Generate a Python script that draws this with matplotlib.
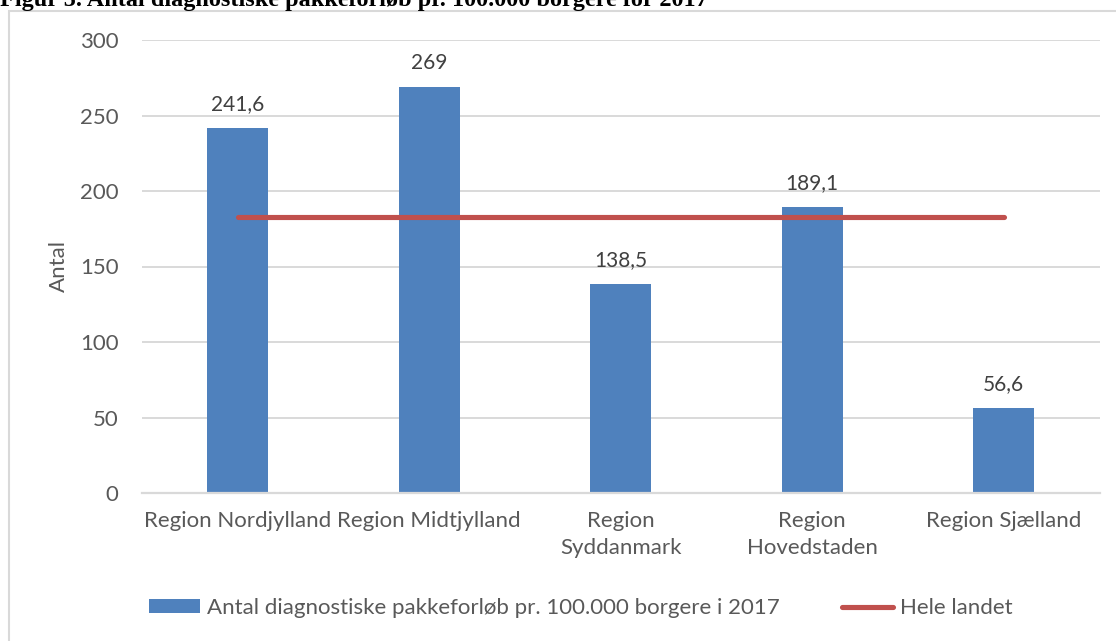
import matplotlib
matplotlib.use("Agg")
import matplotlib.pyplot as plt
from matplotlib.patches import Rectangle
from matplotlib.lines import Line2D
from matplotlib.patches import Patch

# data
regions = ["Region Nordjylland", "Region Midtjylland", "Region\nSyddanmark",
           "Region\nHovedstaden", "Region Sjælland"]
pakkeforloeb = [241.6, 269, 138.5, 189.1, 56.6]
value_labels = ["241,6", "269", "138,5", "189,1", "56,6"]
hele_landet = 182.6
yticks = [0, 50, 100, 150, 200, 250, 300]

plt.rcParams['font.family'] = ['Lato', 'DejaVu Sans']

W, H = 1116, 641
fig = plt.figure(figsize=(W / 100, H / 100), dpi=100)
ax = fig.add_axes([142 / W, 1 - 493 / H, (1099.5 - 142) / W, (493 - 40) / H])

x = list(range(len(regions)))
blue = "#4F81BD"
red = "#C0504D"
grid = "#D9D9D9"
tick_col = "#595959"

ax.bar(x, pakkeforloeb, width=0.32, color=blue, zorder=2)
ax.plot([x[0], x[-1]], [hele_landet, hele_landet], color=red, lw=3.7,
        solid_capstyle="round", zorder=3)

for xi, v, lab in zip(x, pakkeforloeb, value_labels):
    ax.annotate(lab, (xi, v), xytext=(0, 10), textcoords="offset points",
                ha="center", va="bottom", fontsize=15, color="#404040")

ax.set_xlim(-0.5, 4.5)
ax.set_ylim(0, 300)
ax.set_yticks(yticks)
ax.set_yticklabels([str(t) for t in yticks], fontsize=16, color=tick_col)
ax.set_xticks(x)
ax.set_xticklabels(regions, fontsize=16, color=tick_col, linespacing=1.45)
ax.tick_params(axis="x", length=0, pad=13)
ax.tick_params(axis="y", length=0, pad=17)
ax.grid(axis="y", color=grid, lw=1.4, zorder=0)
ax.set_axisbelow(True)
for s in ["left", "right", "top"]:
    ax.spines[s].set_visible(False)
ax.spines["bottom"].set_color(grid)
ax.spines["bottom"].set_linewidth(1.6)
ax.set_ylabel("Antal", fontsize=16, color=tick_col)
ax.yaxis.set_label_coords(-(142 - 69) / (1099.5 - 142), 0.5)

# legend
handles = [Patch(facecolor=blue, edgecolor="none"),
           Line2D([0], [0], color=red, lw=3.7, solid_capstyle="round")]
leg = fig.legend(handles, ["Antal diagnostiske pakkeforløb pr. 100.000 borgere i 2017",
                           "Hele landet"],
                 loc="center left", bbox_to_anchor=(149 / W, 1 - 608 / H), ncol=2,
                 frameon=False, fontsize=16, handlelength=2.3, handleheight=0.6,
                 handletextpad=0.3, borderpad=0, borderaxespad=0,
                 columnspacing=2.8, labelcolor=tick_col)

# chart frame
fig.patches.append(Rectangle((9 / W, -0.1), 1.2, 1 - 11 / H + 0.1,
                             transform=fig.transFigure, fill=False,
                             edgecolor=grid, lw=1.5))

fig.text(0, 1 - 6 / H, "Figur 5. Antal diagnostiske pakkeforløb pr. 100.000 borgere for 2017",
         family="Liberation Serif", weight="bold", fontsize=17.5, va="baseline", ha="left")

fig.savefig("out.png", dpi=100)
